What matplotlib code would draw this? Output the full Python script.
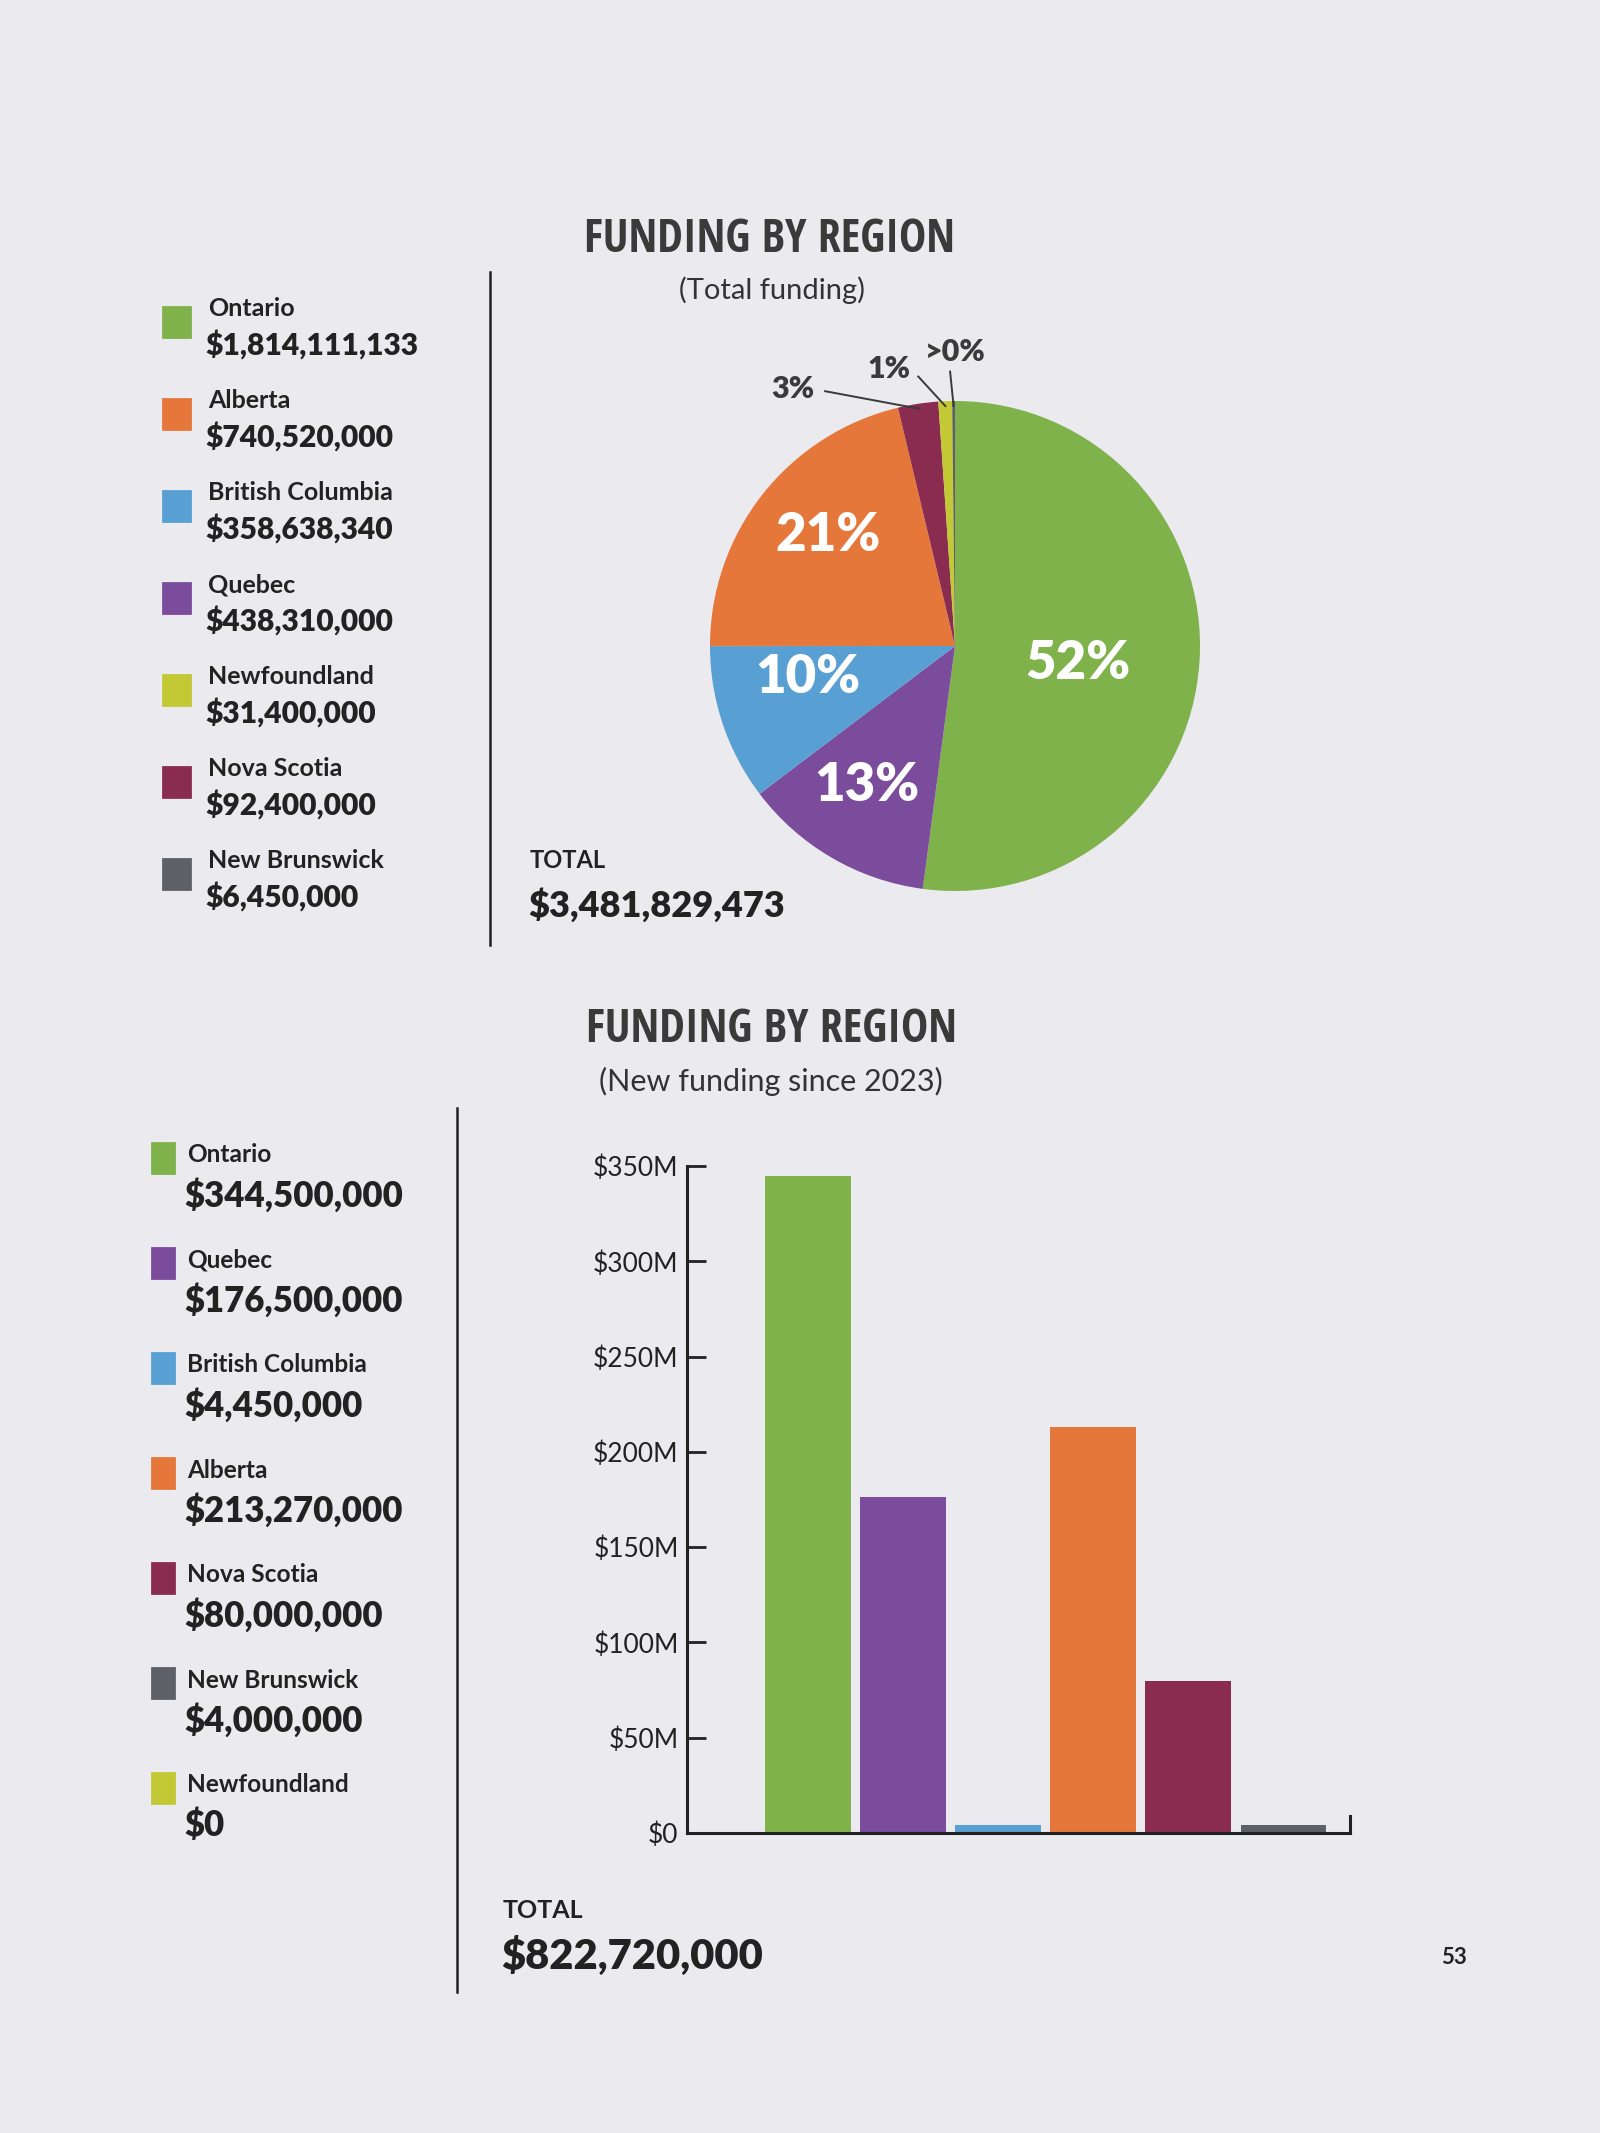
import matplotlib.pyplot as plt
from matplotlib.patches import Rectangle
import numpy as np
import logging

logging.getLogger("matplotlib.font_manager").setLevel(logging.ERROR)

FONT = ["Lato", "DejaVu Sans"]
TITLE_FONT = ["Open Sans Condensed", "DejaVu Sans Condensed",
              "Liberation Sans Narrow", "DejaVu Sans"]
INK = "#222222"
PAPER = "#ebeaee"

# total funding by region (pie), legend order
total_regions = ["Ontario", "Alberta", "British Columbia", "Quebec",
                 "Newfoundland", "Nova Scotia", "New Brunswick"]
total_values = [1814111133, 740520000, 358638340, 438310000,
                31400000, 92400000, 6450000]
# order of the slices, clockwise from 12 o'clock
pie_order = ["Ontario", "Quebec", "British Columbia", "Alberta",
             "Nova Scotia", "Newfoundland", "New Brunswick"]

# new funding since 2023 (bars), legend order
new_regions = ["Ontario", "Quebec", "British Columbia", "Alberta",
               "Nova Scotia", "New Brunswick", "Newfoundland"]
new_values = [344500000, 176500000, 4450000, 213270000,
              80000000, 4000000, 0]

y_ticks = [0, 50e6, 100e6, 150e6, 200e6, 250e6, 300e6, 350e6]
y_tick_labels = ["$0", "$50M", "$100M", "$150M", "$200M", "$250M", "$300M", "$350M"]

colors = {
    "Ontario": "#7fb24b",
    "Alberta": "#e6773a",
    "British Columbia": "#58a0d4",
    "Quebec": "#7b4b9c",
    "Newfoundland": "#c2c935",
    "Nova Scotia": "#8a2c50",
    "New Brunswick": "#5d6066",
}


def money(v):
    return "${:,.0f}".format(v)


W, H = 1600, 2133
fig = plt.figure(figsize=(W / 200, H / 200), dpi=200, facecolor=PAPER)

# overlay in pixel units for titles, legends and dividers
ov = fig.add_axes([0, 0, 1, 1])
ov.set_xlim(0, W)
ov.set_ylim(H, 0)
ov.axis("off")

# ---------- top: total funding ----------
ov.text(770, 240, "FUNDING BY REGION", family=TITLE_FONT, weight="bold",
        fontstretch="condensed", fontsize=16.5, color="#3a3a3a",
        ha="center", va="center")
ov.text(772, 290, "(Total funding)", family=FONT, fontsize=10.5,
        color="#333333", ha="center", va="center")

for i, region in enumerate(total_regions):
    y = 309 + i * 92
    ov.add_patch(Rectangle((163, y - 2), 27, 30, color=colors[region]))
    ov.text(208, y, region, family=FONT, weight="bold", fontsize=9,
            color=INK, ha="left", va="center")
    ov.text(205, y + 36, money(total_values[i]), family=FONT, weight="heavy",
            fontsize=10.8, color=INK, ha="left", va="center")

ov.plot([490, 490], [272, 945], color=INK, lw=0.9)

total_sum = sum(total_values)
ov.text(530, 861, "TOTAL", family=FONT, weight="bold", fontsize=8.5,
        color=INK, ha="left", va="center")
ov.text(528, 905, money(total_sum), family=FONT, weight="heavy", fontsize=13,
        color=INK, ha="left", va="center")

# pie
cx, cy, r = 955, 646, 245
pax = fig.add_axes([(cx - r) / W, 1 - (cy + r) / H, 2 * r / W, 2 * r / H])
pie_vals = [total_values[total_regions.index(n)] for n in pie_order]
wedges, _ = pax.pie(pie_vals, colors=[colors[n] for n in pie_order],
                    startangle=90, counterclock=False, radius=1,
                    wedgeprops=dict(linewidth=0))
pax.set_xlim(-1, 1)
pax.set_ylim(-1, 1)
pax.set_aspect("equal")

inside_xy = [(0.5, -0.07), (-0.36, -0.57), (-0.6, -0.13), (-0.52, 0.45)]
outside_xy = [(-0.66, 1.05), (-0.27, 1.13), (0.0, 1.2)]
k_in, k_out = 0, 0
for w, v in zip(wedges, pie_vals):
    pct = v / total_sum * 100
    label = "{:.0f}%".format(pct) if pct >= 0.5 else ">0%"
    mid = np.deg2rad((w.theta1 + w.theta2) / 2)
    if pct >= 5:
        tx, ty = inside_xy[k_in]
        k_in += 1
        pax.text(tx, ty, label, family=FONT, weight="heavy", fontsize=19,
                 color="white", ha="center", va="center")
    else:
        tx, ty = outside_xy[k_out]
        k_out += 1
        pax.text(tx, ty, label, family=FONT, weight="heavy", fontsize=11,
                 color="#3a3a3a", ha="center", va="center")
        ex, ey = np.cos(mid), np.sin(mid)
        if label == "3%":
            sx, sy = tx + 0.13, ty - 0.01
        elif label == "1%":
            sx, sy = tx + 0.12, ty - 0.03
        else:
            sx, sy = tx - 0.02, ty - 0.08
        pax.plot([sx, ex * 0.98], [sy, ey * 0.98], color="#3a3a3a", lw=0.7,
                 clip_on=False)

# ---------- bottom: new funding since 2023 ----------
ov.text(771, 1029, "FUNDING BY REGION", family=TITLE_FONT, weight="bold",
        fontstretch="condensed", fontsize=16.5, color="#3a3a3a",
        ha="center", va="center")
ov.text(771, 1081, "(New funding since 2023)", family=FONT, fontsize=11,
        color="#333333", ha="center", va="center")

for i, region in enumerate(new_regions):
    y = 1155 + i * 105
    ov.add_patch(Rectangle((152, y - 12), 22, 30, color=colors[region]))
    ov.text(187, y, region, family=FONT, weight="bold", fontsize=8.8,
            color=INK, ha="left", va="center")
    ov.text(184, y + 40, money(new_values[i]), family=FONT, weight="heavy",
            fontsize=12.5, color=INK, ha="left", va="center")

ov.plot([457, 457], [1108, 1992], color=INK, lw=0.9)

ov.text(503, 1911, "TOTAL", family=FONT, weight="bold", fontsize=9,
        color=INK, ha="left", va="center")
ov.text(501, 1956, money(sum(new_values)), family=FONT, weight="heavy",
        fontsize=15, color=INK, ha="left", va="center")

ov.text(1454, 1958, "53", family=FONT, weight="bold", fontsize=8,
        color=INK, ha="center", va="center")

# bars
x0, x1, y0, y1 = 687, 1350, 1833, 1166
bax = fig.add_axes([x0 / W, 1 - y0 / H, (x1 - x0) / W, (y0 - y1) / H])
bax.set_facecolor("none")
shown = [(n, v) for n, v in zip(new_regions, new_values) if v > 0]
xs = list(range(len(shown)))
bax.bar(xs, [v for _, v in shown], width=0.9,
        color=[colors[n] for n, _ in shown])
bax.set_xlim(-1.27, 5.7)
bax.set_ylim(0, 350e6)
bax.set_yticks(y_ticks)
bax.set_yticklabels(y_tick_labels, family=FONT, fontsize=9.5, color=INK)
bax.tick_params(axis="y", direction="in", length=7, width=1, color=INK, pad=3)
bax.set_xticks([])
bax.spines["top"].set_visible(False)
bax.spines["right"].set_bounds(0, 9e6)
for side in ["left", "bottom", "right"]:
    bax.spines[side].set_color(INK)
    bax.spines[side].set_linewidth(1.1)

fig.savefig("out.png", dpi=200, facecolor=PAPER)
